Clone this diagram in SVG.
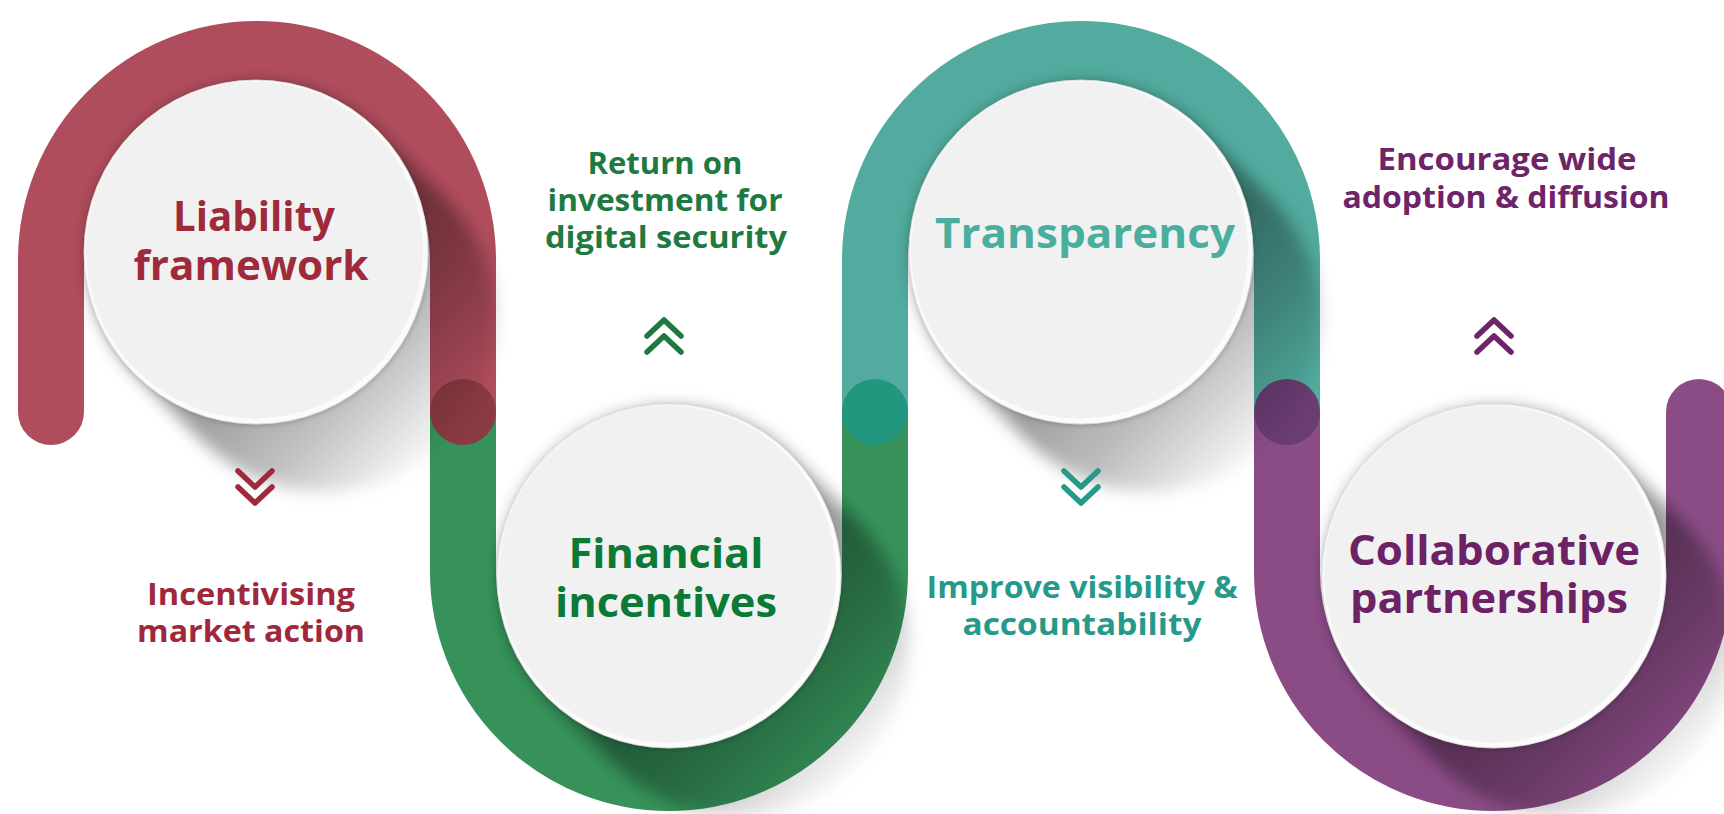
<svg xmlns="http://www.w3.org/2000/svg" width="1724" height="814" viewBox="0 0 1724 814">
<style>
.band{fill:none;stroke-width:66;stroke-linecap:butt}
.title{font-family:"Open Sans","Liberation Sans",sans-serif;font-weight:700;font-size:42px;text-anchor:middle}
.sub{font-family:"Open Sans","Liberation Sans",sans-serif;font-weight:700;font-size:30px;text-anchor:middle}
.chev{fill:none;stroke-width:5.5;stroke-linecap:round;stroke-linejoin:round}
.disc-base{fill:#fbfbfb;stroke:#dedede;stroke-width:0.8}
.disc-top{fill:#f1f1f1}
</style>
<defs>
<linearGradient id="shg" x1="0" y1="0" x2="1" y2="1">
<stop offset="0.55" stop-color="#000" stop-opacity="0.38"/>
<stop offset="0.7" stop-color="#000" stop-opacity="0.25"/>
<stop offset="0.9" stop-color="#000" stop-opacity="0"/>
</linearGradient>
<filter id="blur" x="-20%" y="-20%" width="140%" height="140%"><feGaussianBlur stdDeviation="8"/></filter>
<filter id="rim" x="-10%" y="-10%" width="120%" height="120%"><feDropShadow dx="1" dy="2" stdDeviation="2" flood-color="#000" flood-opacity="0.15"/></filter>
</defs>
<rect width="1724" height="814" fill="#fff"/>
<g id="connectors">
<path class="band" stroke="#b04d5c" d="M51 412 L51 260 A206 206 0 0 1 463 260 L463 412"/>
<circle cx="51" cy="412" r="33" fill="#b04d5c"/>
<path class="band" stroke="#36925a" d="M463 412 L463 572 A206 206 0 0 0 875 572 L875 412"/>
<path class="band" stroke="#52ab9e" d="M875 412 L875 260 A206 206 0 0 1 1287 260 L1287 412"/>
<path class="band" stroke="#8b4c86" d="M1287 412 L1287 572 A206 206 0 0 0 1699 572 L1699 412"/>
<circle cx="1699" cy="412" r="33" fill="#8b4c86"/>
<circle cx="463" cy="412" r="33" fill="#8a3a41"/>
<circle cx="875" cy="412" r="33" fill="#22967f"/>
<circle cx="1287" cy="412" r="33" fill="#693c72"/>
</g>
<g id="shadows" filter="url(#blur)">
<path fill="url(#shg)" d="M377.6 130.4 L447.6 200.4 A172 172 0 0 1 204.4 443.6 L134.4 373.6 A172 172 0 0 1 377.6 130.4 Z"/>
<path fill="url(#shg)" d="M790.6 454.4 L860.6 524.4 A172 172 0 0 1 617.4 767.6 L547.4 697.6 A172 172 0 0 1 790.6 454.4 Z"/>
<path fill="url(#shg)" d="M1202.6 130.4 L1272.6 200.4 A172 172 0 0 1 1029.4 443.6 L959.4 373.6 A172 172 0 0 1 1202.6 130.4 Z"/>
<path fill="url(#shg)" d="M1615.6 454.4 L1685.6 524.4 A172 172 0 0 1 1442.4 767.6 L1372.4 697.6 A172 172 0 0 1 1615.6 454.4 Z"/>
</g>
<g id="node-liability">
<circle class="disc-base" cx="256" cy="252" r="172" filter="url(#rim)"/>
<circle class="disc-top" cx="254.5" cy="250" r="168.5"/>
<text class="title" fill="#9e2a3c"><tspan x="254" y="231" textLength="162" lengthAdjust="spacingAndGlyphs">Liability</tspan><tspan x="251" y="280" textLength="235" lengthAdjust="spacingAndGlyphs">framework</tspan></text>
</g>
<g id="node-financial">
<circle class="disc-base" cx="669" cy="576" r="172" filter="url(#rim)"/>
<circle class="disc-top" cx="667.5" cy="574" r="168.5"/>
<text class="title" fill="#0b7a37"><tspan x="666" y="568" textLength="195" lengthAdjust="spacingAndGlyphs">Financial</tspan><tspan x="666" y="617" textLength="222" lengthAdjust="spacingAndGlyphs">incentives</tspan></text>
</g>
<g id="node-transparency">
<circle class="disc-base" cx="1081" cy="252" r="172" filter="url(#rim)"/>
<circle class="disc-top" cx="1079.5" cy="250" r="168.5"/>
<text class="title" fill="#4aae9f" x="1085" y="248" textLength="300" lengthAdjust="spacingAndGlyphs">Transparency</text>
</g>
<g id="node-collaborative">
<circle class="disc-base" cx="1494" cy="576" r="172" filter="url(#rim)"/>
<circle class="disc-top" cx="1492.5" cy="574" r="168.5"/>
<text class="title" fill="#6c2265"><tspan x="1494" y="565" textLength="292" lengthAdjust="spacingAndGlyphs">Collaborative</tspan><tspan x="1489" y="613" textLength="278" lengthAdjust="spacingAndGlyphs">partnerships</tspan></text>
</g>
<g id="label-incentivising">
<path class="chev" stroke="#9e2a3c" d="M238 471 L255 487 L272 471 M238 487 L255 503 L272 487"/>
<text class="sub" fill="#a0283b"><tspan x="251" y="605" textLength="208" lengthAdjust="spacingAndGlyphs">Incentivising</tspan><tspan x="251" y="642" textLength="228" lengthAdjust="spacingAndGlyphs">market action</tspan></text>
</g>
<g id="label-return">
<path class="chev" stroke="#1e7a40" d="M647 336 L664 320 L681 336 M647 352 L664 336 L681 352"/>
<text class="sub" fill="#1e7a40"><tspan x="665" y="174" textLength="155" lengthAdjust="spacingAndGlyphs">Return on</tspan><tspan x="665" y="211" textLength="235" lengthAdjust="spacingAndGlyphs">investment for</tspan><tspan x="666" y="248" textLength="242" lengthAdjust="spacingAndGlyphs">digital security</tspan></text>
</g>
<g id="label-improve">
<path class="chev" stroke="#25998a" d="M1064 471 L1081 487 L1098 471 M1064 487 L1081 503 L1098 487"/>
<text class="sub" fill="#25998a"><tspan x="1082" y="598" textLength="311" lengthAdjust="spacingAndGlyphs">Improve visibility &amp;</tspan><tspan x="1082" y="635" textLength="239" lengthAdjust="spacingAndGlyphs">accountability</tspan></text>
</g>
<g id="label-encourage">
<path class="chev" stroke="#6e2468" d="M1477 336 L1494 320 L1511 336 M1477 352 L1494 336 L1511 352"/>
<text class="sub" fill="#6e2468"><tspan x="1507" y="170" textLength="259" lengthAdjust="spacingAndGlyphs">Encourage wide</tspan><tspan x="1506" y="208" textLength="327" lengthAdjust="spacingAndGlyphs">adoption &amp; diffusion</tspan></text>
</g>
</svg>
